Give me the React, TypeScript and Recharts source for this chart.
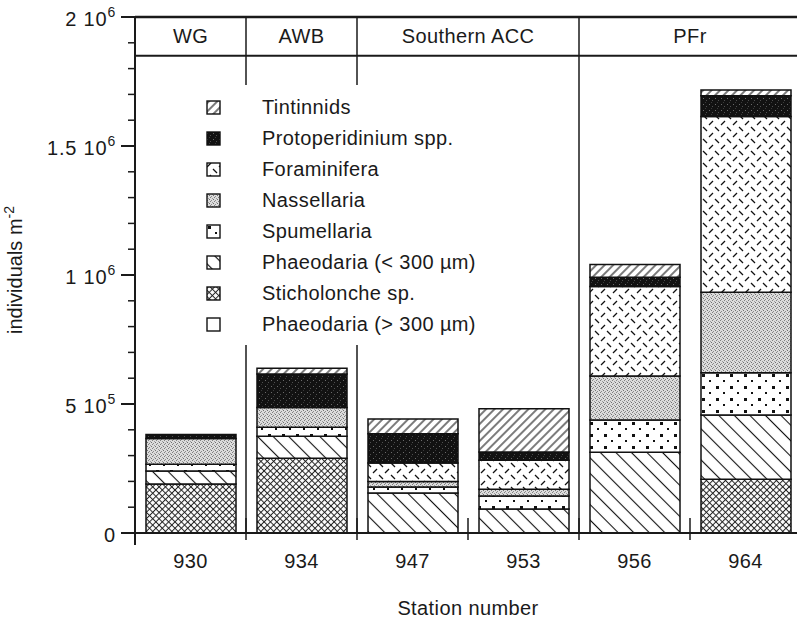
import React from 'react';
import {
  BarChart,
  Bar,
  XAxis,
  YAxis,
  ReferenceLine,
  ReferenceArea,
  Legend,
} from 'recharts';

const stations = ['930', '934', '947', '953', '956', '964'];

// individuals m^-2 per station, stacked from the bottom up
const phaeodariaLarge = [0, 0, 0, 0, 0, 0];
const sticholonche = [190000, 290000, 0, 0, 0, 208000];
const phaeodariaSmall = [50000, 85000, 155000, 93000, 313000, 249000];
const spumellaria = [26000, 35000, 23000, 50000, 125000, 164000];
const nassellaria = [100000, 76000, 22000, 27000, 171000, 312000];
const foraminifera = [0, 0, 71000, 112000, 346000, 681000];
const protoperidinium = [16000, 130000, 114000, 32000, 36000, 81000];
const tintinnids = [0, 23000, 57000, 168000, 50000, 22000];

// water mass regions, given as station index spans
const regions = ['WG', 'AWB', 'Southern ACC', 'PFr'];
const regionStart = [0, 1, 2, 4];
const regionEnd = [1, 2, 4, 6];

const yMajorTicks = [0, 500000, 1000000, 1500000, 2000000];
const yMajorLabels = [
  ['0', ''],
  ['5 10', '5'],
  ['1 10', '6'],
  ['1.5 10', '6'],
  ['2 10', '6'],
];

const Y_MAX = 2000000;
const HEADER_LINE = 1850000;

const FONT = '"Liberation Sans", Arial, sans-serif';
const INK = '#1a1a1a';
const PLOT_LEFT = 135;
const PLOT_BOTTOM = 533;
const BAND = 111;

const series = [
  { key: 'phaeoLarge', name: 'Phaeodaria (> 300 µm)', values: phaeodariaLarge, fill: '#fff' },
  { key: 'sticho', name: 'Sticholonche sp.', values: sticholonche, fill: 'url(#p-sticho)' },
  { key: 'phaeoSmall', name: 'Phaeodaria (< 300 µm)', values: phaeodariaSmall, fill: 'url(#p-phaeo)' },
  { key: 'spum', name: 'Spumellaria', values: spumellaria, fill: 'url(#p-spum)' },
  { key: 'nass', name: 'Nassellaria', values: nassellaria, fill: 'url(#p-nass)' },
  { key: 'foram', name: 'Foraminifera', values: foraminifera, fill: 'url(#p-foram)' },
  { key: 'proto', name: 'Protoperidinium spp.', values: protoperidinium, fill: 'url(#p-proto)' },
  { key: 'tint', name: 'Tintinnids', values: tintinnids, fill: 'url(#p-tint)' },
];

const data = stations.map((station, i) => {
  const row: Record<string, number | string> = { station, pos: i + 0.5 };
  series.forEach((s) => {
    row[s.key] = s.values[i];
  });
  return row;
});

const yTicks = Array.from({ length: 21 }, (_, i) => i * 100000);

// hatch and stipple fills shared by the bars and the legend swatches
const Patterns = () => (
  <svg width={0} height={0} style={{ position: 'absolute' }}>
    <defs>
      <pattern id="p-tint" width={8} height={6} patternUnits="userSpaceOnUse" patternTransform="rotate(-45)">
        <rect width={8} height={6} fill="#fff" />
        <line x1={0} y1={3} x2={8} y2={3} stroke="#111" strokeWidth={1.1} />
      </pattern>
      <pattern id="p-phaeo" width={8} height={11} patternUnits="userSpaceOnUse" patternTransform="rotate(45)">
        <rect width={8} height={11} fill="#fff" />
        <line x1={0} y1={5.5} x2={8} y2={5.5} stroke="#111" strokeWidth={1.1} />
      </pattern>
      <pattern id="p-sticho" width={4.5} height={4.5} patternUnits="userSpaceOnUse" patternTransform="rotate(45)">
        <rect width={4.5} height={4.5} fill="#fff" />
        <line x1={0} y1={2.25} x2={4.5} y2={2.25} stroke="#222" strokeWidth={1} />
        <line x1={2.25} y1={0} x2={2.25} y2={4.5} stroke="#222" strokeWidth={1} />
      </pattern>
      <pattern id="p-proto" width={6} height={6} patternUnits="userSpaceOnUse">
        <rect width={6} height={6} fill="#121212" />
        <rect x={1} y={2} width={1} height={1} fill="#6a6a6a" />
        <rect x={4} y={4} width={1} height={1} fill="#505050" />
        <rect x={3} y={0} width={1} height={1} fill="#3a3a3a" />
      </pattern>
      <pattern id="p-nass" width={4} height={4} patternUnits="userSpaceOnUse">
        <rect width={4} height={4} fill="#dcdcdc" />
        <rect x={0} y={0} width={1} height={1} fill="#808080" />
        <rect x={2} y={1} width={1} height={1} fill="#9a9a9a" />
        <rect x={1} y={3} width={1} height={1} fill="#8c8c8c" />
        <rect x={3} y={2} width={1} height={1} fill="#707070" />
      </pattern>
      <pattern id="p-foram" width={12} height={12} patternUnits="userSpaceOnUse">
        <rect width={12} height={12} fill="#fff" />
        <line x1={1} y1={5} x2={5} y2={1} stroke="#111" strokeWidth={1.3} />
        <line x1={7} y1={7} x2={11} y2={11} stroke="#111" strokeWidth={1.3} />
      </pattern>
      <pattern id="p-spum" width={14} height={12} patternUnits="userSpaceOnUse">
        <rect width={14} height={12} fill="#fff" />
        <rect x={2} y={2} width={3} height={3} fill="#111" />
        <rect x={9} y={8} width={2} height={2} fill="#111" />
      </pattern>
    </defs>
  </svg>
);

const YTick = (props: any) => {
  const { payload } = props;
  const y = payload.coordinate;
  const x = PLOT_LEFT;
  const idx = yMajorTicks.indexOf(payload.value);
  if (idx < 0) {
    return <line x1={x - 7} x2={x} y1={y} y2={y} stroke={INK} strokeWidth={1.5} />;
  }
  const [base, exp] = yMajorLabels[idx];
  return (
    <g>
      <line x1={x - 14} x2={x} y1={y} y2={y} stroke={INK} strokeWidth={2} />
      <text
        x={x - 19}
        y={y + 9}
        textAnchor="end"
        fill={INK}
        fontSize={20}
        letterSpacing={0.8}
        fontFamily={FONT}
      >
        {base}
        {exp && (
          <tspan dy={-9} fontSize={14}>
            {exp}
          </tspan>
        )}
      </text>
    </g>
  );
};

const XTick = (props: any) => {
  const { payload, index } = props;
  const cx = payload.coordinate;
  const left = cx - BAND / 2;
  const first = index === 0;
  return (
    <g>
      <line
        x1={left}
        x2={left}
        y1={first ? PLOT_BOTTOM : PLOT_BOTTOM - 15}
        y2={first ? PLOT_BOTTOM + 12 : PLOT_BOTTOM + 7}
        stroke={INK}
        strokeWidth={first ? 2 : 1.5}
      />
      <text
        x={cx}
        y={PLOT_BOTTOM + 35}
        textAnchor="middle"
        fill={INK}
        fontSize={20}
        letterSpacing={0.4}
        fontFamily={FONT}
      >
        {stations[Math.floor(payload.value)]}
      </text>
    </g>
  );
};

const YLabel = () => (
  <text
    x={22}
    y={270}
    transform="rotate(-90 22 270)"
    textAnchor="middle"
    fill={INK}
    fontSize={20}
    fontFamily={FONT}
  >
    individuals m
    <tspan dy={-8} fontSize={14}>
      -2
    </tspan>
  </text>
);

const LegendBox = () => (
  <div style={{ background: '#fff', padding: '7px 0 5px 0', width: 315, fontFamily: FONT }}>
    {[...series].reverse().map((s) => (
      <div key={s.key} style={{ display: 'flex', alignItems: 'center', height: 31 }}>
        <svg width={15} height={15} style={{ marginLeft: 16, flex: 'none' }}>
          <rect x={1} y={1} width={13} height={13} fill={s.fill} stroke="#111" strokeWidth={1.4} />
        </svg>
        <span style={{ marginLeft: 41, fontSize: 20, letterSpacing: 0.4, color: INK, whiteSpace: 'nowrap' }}>
          {s.name}
        </span>
      </div>
    ))}
  </div>
);

const App: React.FC = () => {
  return (
    <div
      style={{
        position: 'absolute',
        left: 0,
        top: 0,
        width: 797,
        height: 621,
        overflow: 'hidden',
        background: '#fff',
      }}
    >
      <Patterns />
      <BarChart
        width={810}
        height={621}
        data={data}
        margin={{ top: 17, right: 9, bottom: 0, left: 0 }}
        barSize={90}
      >
        <XAxis
          type="number"
          dataKey="pos"
          domain={[0, stations.length]}
          ticks={stations.map((_, i) => i + 0.5)}
          interval={0}
          height={88}
          tickSize={0}
          tickMargin={0}
          tickLine={false}
          axisLine={{ stroke: INK, strokeWidth: 2 }}
          tick={(p: any) => <XTick {...p} />}
          label={{
            value: 'Station number',
            position: 'insideBottom',
            offset: 6,
            fill: INK,
            fontSize: 20,
            letterSpacing: 0.4,
            fontFamily: FONT,
          }}
        />
        <YAxis
          type="number"
          domain={[0, Y_MAX]}
          ticks={yTicks}
          interval={0}
          width={PLOT_LEFT}
          tickSize={0}
          tickMargin={0}
          tickLine={false}
          axisLine={{ stroke: INK, strokeWidth: 2 }}
          tick={(p: any) => <YTick {...p} />}
          label={<YLabel />}
        />
        <ReferenceLine y={Y_MAX} stroke={INK} strokeWidth={2.5} ifOverflow="visible" />
        <ReferenceLine y={HEADER_LINE} stroke={INK} strokeWidth={2} ifOverflow="visible" />
        {regionStart.slice(1).map((x) => (
          <ReferenceLine key={`div-${x}`} x={x} stroke={INK} strokeWidth={1.5} ifOverflow="visible" />
        ))}
        {regions.map((name, i) => (
          <ReferenceArea
            key={name}
            x1={regionStart[i]}
            x2={regionEnd[i]}
            y1={HEADER_LINE}
            y2={Y_MAX}
            fill="none"
            fillOpacity={0}
            stroke="none"
            ifOverflow="visible"
            label={{
              value: name,
              position: 'center',
              fill: INK,
              fontSize: 20,
              fontFamily: FONT,
              letterSpacing: 0.4,
            }}
          />
        ))}
        {series.map((s) => (
          <Bar
            key={s.key}
            dataKey={s.key}
            name={s.name}
            stackId="a"
            fill={s.fill}
            stroke="#111"
            strokeWidth={1.5}
            isAnimationActive={false}
          />
        ))}
        <Legend
          layout="vertical"
          align="center"
          verticalAlign="middle"
          content={() => <LegendBox />}
          wrapperStyle={{ left: 190, top: 85, width: 315, height: 'auto' }}
        />
      </BarChart>
    </div>
  );
};

export default App;
